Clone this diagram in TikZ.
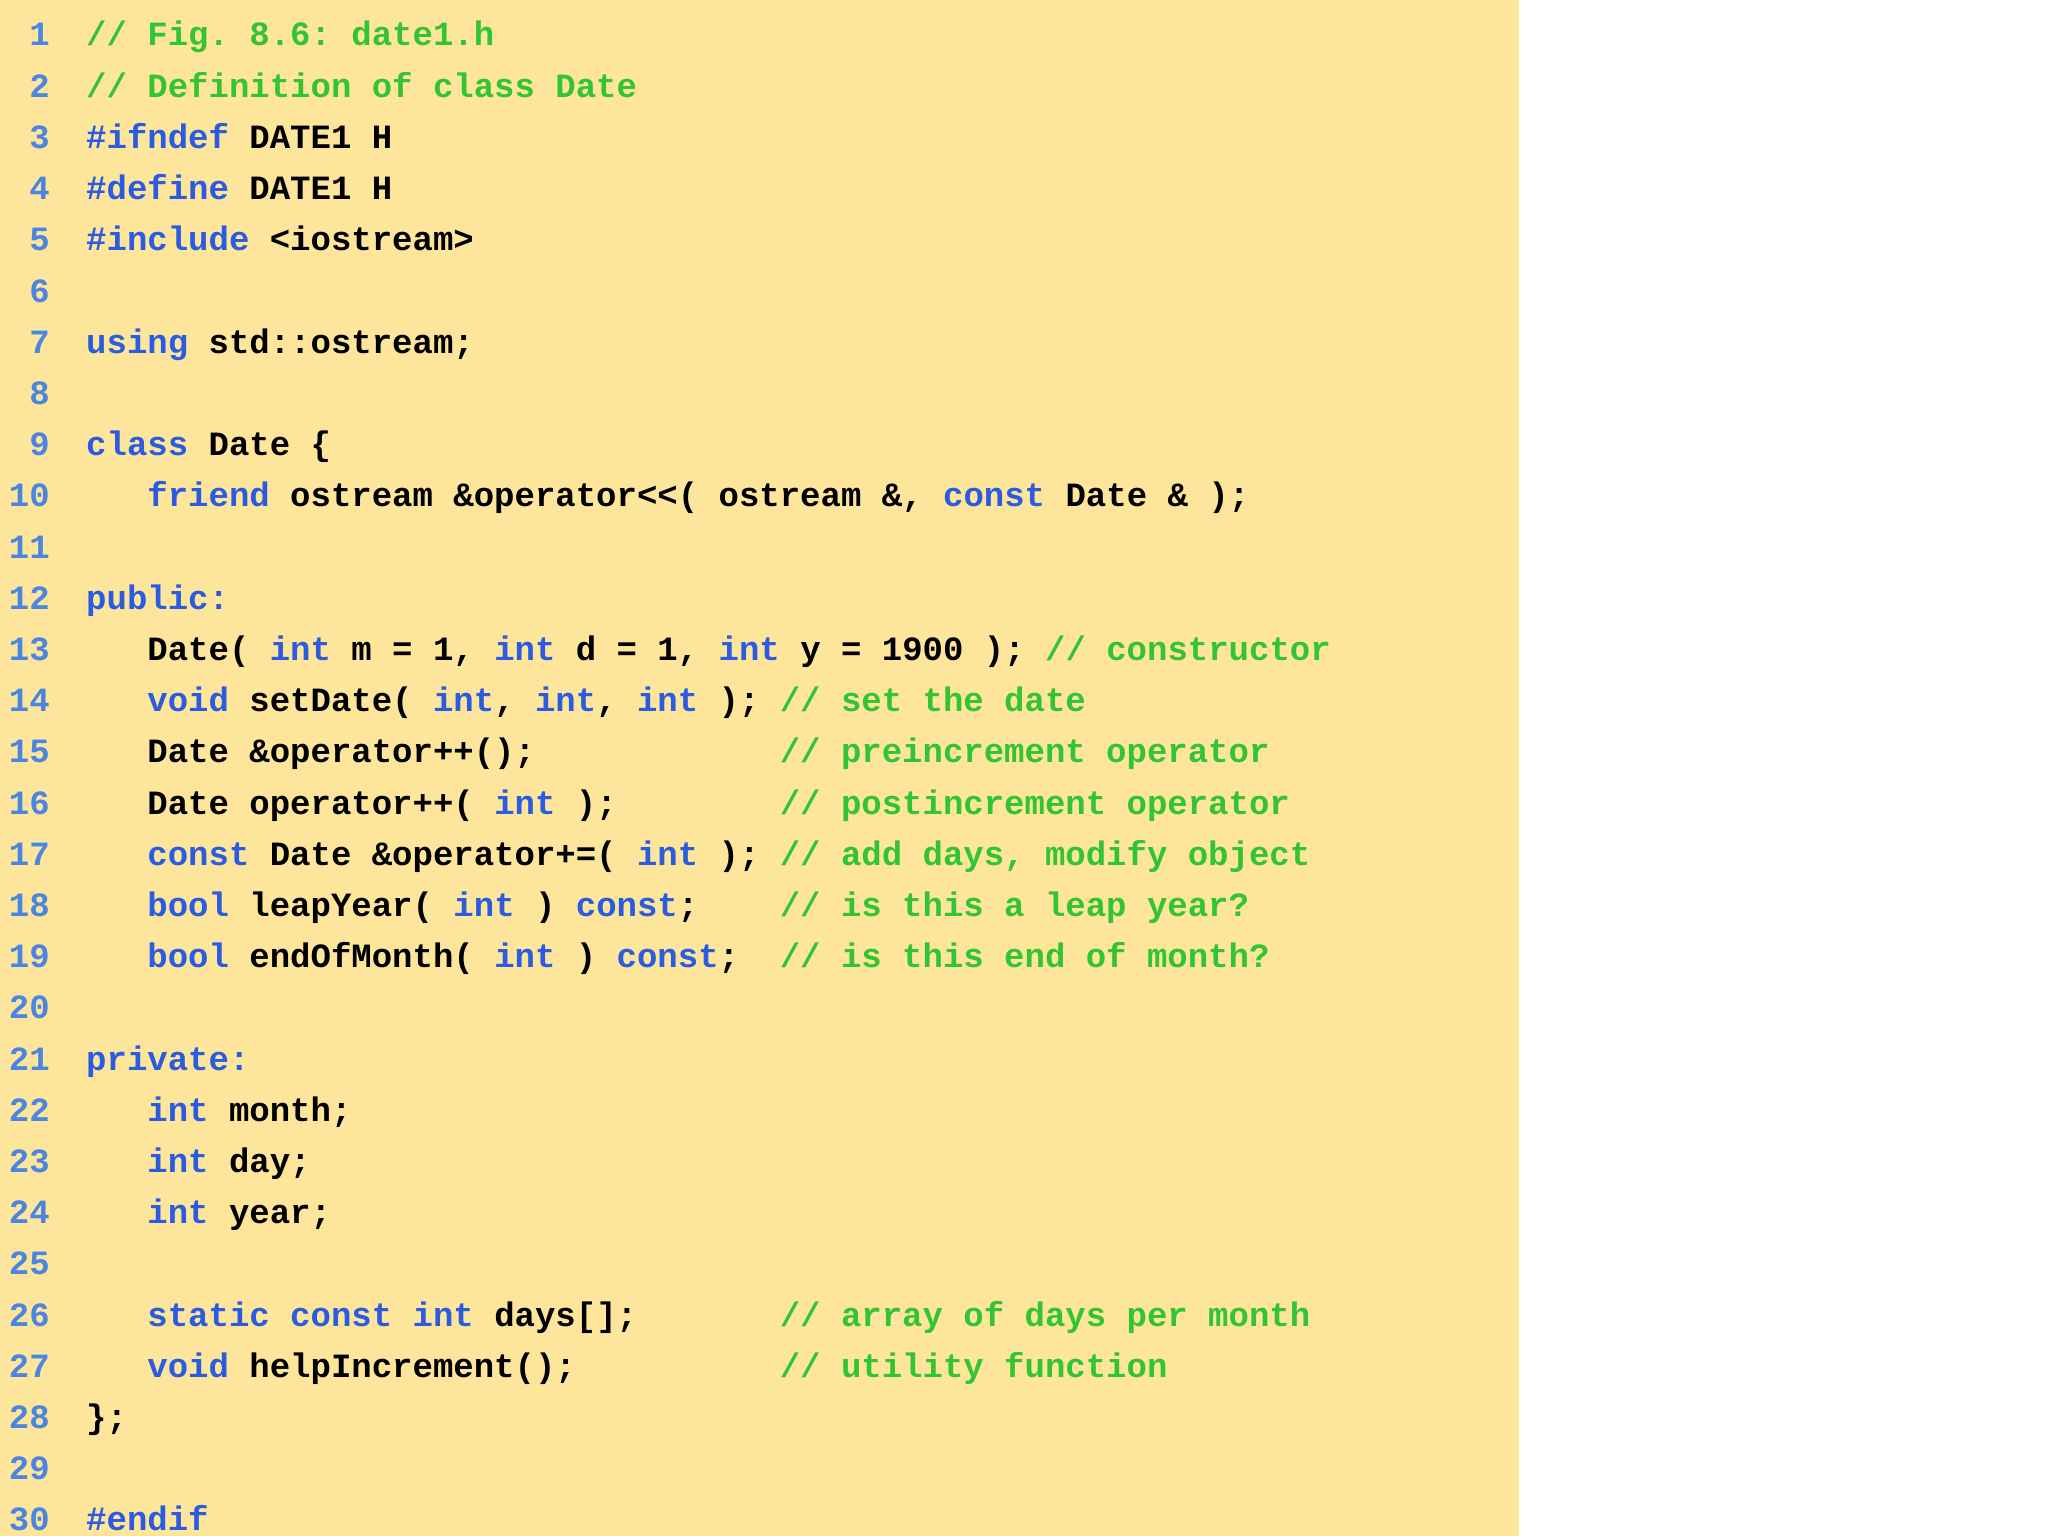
\documentclass[tikz,border=0pt]{standalone}
\usepackage{fontspec}
\newfontfamily\cf{Liberation Mono}
\definecolor{bg}{HTML}{FDE59B}
\definecolor{kw}{HTML}{2A5BE0}
\definecolor{num}{HTML}{4A86E0}
\definecolor{cm}{HTML}{33C433}
\newcommand\K[1]{\textcolor{kw}{#1}}
\newcommand\Cm[1]{\textcolor{cm}{#1}}
\tikzset{code/.style={anchor=base west,inner sep=0pt,font=\cf\bfseries\fontsize{34}{40}\selectfont\frenchspacing},
lnum/.style={anchor=base east,inner sep=0pt,text=num,font=\cf\bfseries\fontsize{34}{40}\selectfont}}
\begin{document}
\begin{tikzpicture}[x=1pt,y=-1pt]
\useasboundingbox (0,0) rectangle (2048,1536);
\fill[bg] (0,0) rectangle (1519,1536);
\foreach \i in {1,...,30}{\node[lnum] (n\i) at (50,{46+(\i-1)*51.2}) {\i};}
\def\X#1{86+#1*20.4}
\def\Y#1{46+(#1-1)*51.2}
\node[code] (l1) at ({\X0},{\Y1}) {\Cm{// Fig. 8.6: date1.h}};
\node[code] (l2) at ({\X0},{\Y2}) {\Cm{// Definition of class Date}};
\node[code] (l3) at ({\X0},{\Y3}) {\K{\#ifndef} DATE1 H};
\node[code] (l4) at ({\X0},{\Y4}) {\K{\#define} DATE1 H};
\node[code] (l5) at ({\X0},{\Y5}) {\K{\#include} <iostream>};
\node[code] (l7) at ({\X0},{\Y7}) {\K{using} std::ostream;};
\node[code] (l9) at ({\X0},{\Y9}) {\K{class} Date \{};
\node[code] (l10) at ({\X3},{\Y{10}}) {\K{friend} ostream \&operator<{}<( ostream \&, \K{const} Date \& );};
\node[code] (l12) at ({\X0},{\Y{12}}) {\K{public:}};
\node[code] (l13) at ({\X3},{\Y{13}}) {Date( \K{int} m = 1, \K{int} d = 1, \K{int} y = 1900 ); \Cm{// constructor}};
\node[code] (l14) at ({\X3},{\Y{14}}) {\K{void} setDate( \K{int}, \K{int}, \K{int} );};
\node[code] (l15) at ({\X3},{\Y{15}}) {Date \&operator++();};
\node[code] (l16) at ({\X3},{\Y{16}}) {Date operator++( \K{int} );};
\node[code] (l17) at ({\X3},{\Y{17}}) {\K{const} Date \&operator+=( \K{int} );};
\node[code] (l18) at ({\X3},{\Y{18}}) {\K{bool} leapYear( \K{int} ) \K{const};};
\node[code] (l19) at ({\X3},{\Y{19}}) {\K{bool} endOfMonth( \K{int} ) \K{const};};
\node[code] (l21) at ({\X0},{\Y{21}}) {\K{private:}};
\node[code] (l22) at ({\X3},{\Y{22}}) {\K{int} month;};
\node[code] (l23) at ({\X3},{\Y{23}}) {\K{int} day;};
\node[code] (l24) at ({\X3},{\Y{24}}) {\K{int} year;};
\node[code] (l26) at ({\X3},{\Y{26}}) {\K{static const int} days[];};
\node[code] (l27) at ({\X3},{\Y{27}}) {\K{void} helpIncrement();};
\node[code] (l28) at ({\X0},{\Y{28}}) {\};};
\node[code] (l30) at ({\X0},{\Y{30}}) {\K{\#endif}};
\node[code] (c14) at ({\X{34}},{\Y{14}}) {\Cm{// set the date}};
\node[code] (c15) at ({\X{34}},{\Y{15}}) {\Cm{// preincrement operator}};
\node[code] (c16) at ({\X{34}},{\Y{16}}) {\Cm{// postincrement operator}};
\node[code] (c17) at ({\X{34}},{\Y{17}}) {\Cm{// add days, modify object}};
\node[code] (c18) at ({\X{34}},{\Y{18}}) {\Cm{// is this a leap year?}};
\node[code] (c19) at ({\X{34}},{\Y{19}}) {\Cm{// is this end of month?}};
\node[code] (c26) at ({\X{34}},{\Y{26}}) {\Cm{// array of days per month}};
\node[code] (c27) at ({\X{34}},{\Y{27}}) {\Cm{// utility function}};
\end{tikzpicture}
\end{document}
